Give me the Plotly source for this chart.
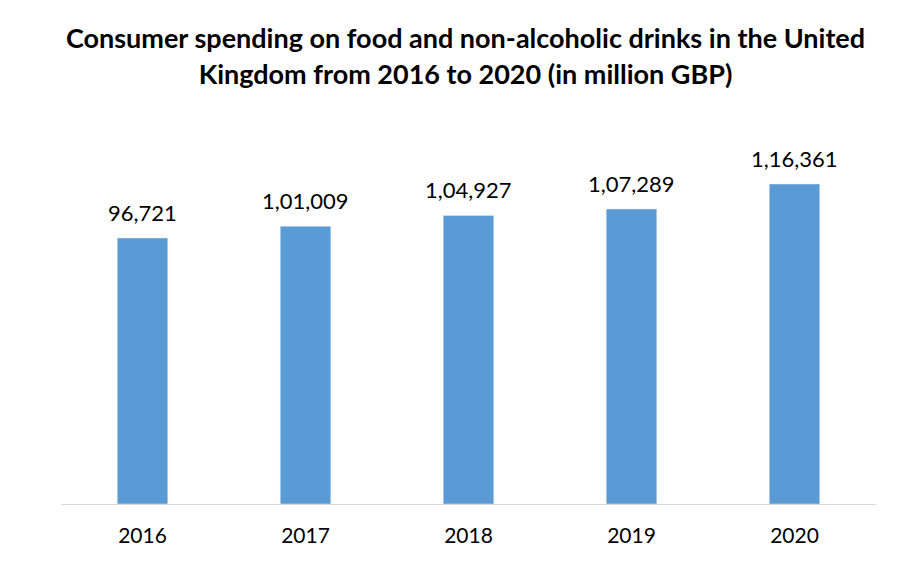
import plotly.graph_objects as go

years = ["2016", "2017", "2018", "2019", "2020"]
spending = [96721, 101009, 104927, 107289, 116361]


def indian_format(n):
    s = str(n)
    if len(s) <= 3:
        return s
    head, tail = s[:-3], s[-3:]
    parts = []
    while len(head) > 2:
        parts.insert(0, head[-2:])
        head = head[:-2]
    if head:
        parts.insert(0, head)
    return ",".join(parts) + "," + tail


labels = [indian_format(v) for v in spending]

font_name = "Lato"

fig = go.Figure()

fig.add_trace(go.Bar(
    x=years,
    y=spending,
    marker=dict(color="#5B9BD5"),
))

# category axis: annotations placed by category index
for i, (val, lab) in enumerate(zip(spending, labels)):
    fig.add_annotation(
        x=i, y=val, text=lab, showarrow=False,
        yanchor="bottom", yshift=10,
        font=dict(family=font_name, size=22, color="#000000")
    )

fig.update_layout(
    width=915, height=586,
    paper_bgcolor="white", plot_bgcolor="white",
    margin=dict(l=53, r=47, t=111, b=90),
    bargap=0.69,
    title=dict(
        text="<b>Consumer spending on food and non-alcoholic drinks in the United<br>Kingdom from 2016 to 2020 (in million GBP)</b>",
        x=0.5, xanchor="center", y=0.931, yanchor="middle",
        font=dict(family=font_name, size=27, color="#000000")
    ),
    xaxis=dict(
        type="category",
        showline=True, linecolor="#d9d9d9", linewidth=1,
        ticks="outside", ticklen=13, tickcolor="rgba(0,0,0,0)",
        tickfont=dict(family=font_name, size=21, color="#000000"),
        showgrid=False
    ),
    yaxis=dict(
        range=[0, 140000], visible=False, showgrid=False, zeroline=False
    ),
    showlegend=False
)

fig.write_html("out.html")
